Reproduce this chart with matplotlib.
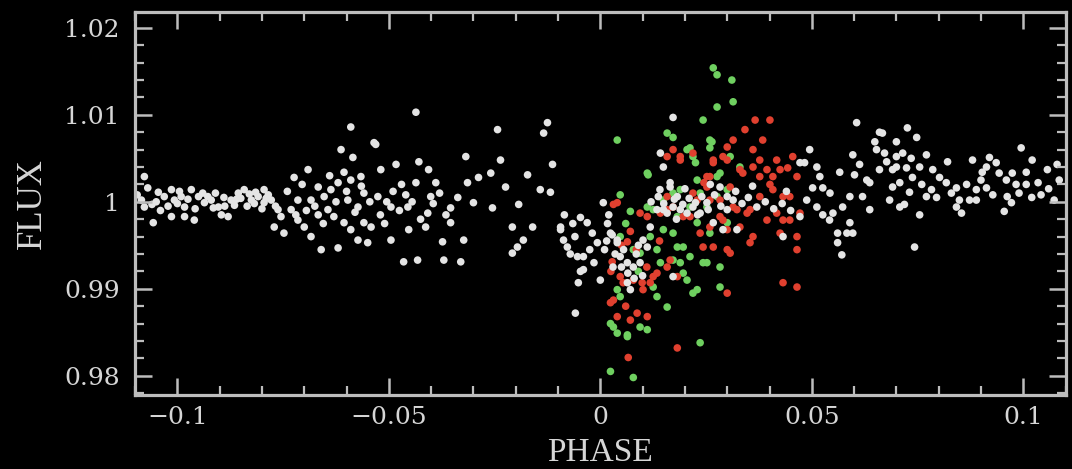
import matplotlib
matplotlib.use("Agg")
import matplotlib.pyplot as plt
from matplotlib.ticker import MultipleLocator

# phase, flux
white_points = [
    (-0.1078, 1.0029), (-0.1085, 1.0002), (-0.1078, 0.9994), (-0.1057, 0.9976), (-0.1045, 1.0011),
    (-0.1031, 1.0006), (-0.1014, 1.0014), (-0.1007, 1.0002), (-0.0991, 1.0006), (-0.0983, 0.9994),
    (-0.1014, 0.9983), (-0.0983, 0.9983), (-0.0960, 0.9979), (-0.0967, 1.0014), (-0.0950, 1.0006),
    (-0.0936, 0.9999), (-0.0920, 1.0002), (-0.0903, 0.9994), (-0.0896, 0.9985), (-0.0880, 0.9983),
    (-0.0873, 1.0002), (-0.0856, 1.0010), (-0.0842, 1.0014), (-0.0825, 1.0002), (-0.0809, 1.0006),
    (-0.0795, 1.0014), (-0.0795, 0.9999), (-0.0778, 1.0002), (-0.0762, 0.9991), (-0.0755, 0.9983),
    (-0.0771, 0.9971), (-0.0748, 0.9964), (-0.0731, 0.9991), (-0.0715, 1.0002), (-0.0715, 0.9979),
    (-0.0700, 0.9971), (-0.0684, 0.9960), (-0.0660, 0.9945), (-0.0620, 0.9947), (-0.0691, 1.0037),
    (-0.0667, 1.0017), (-0.0653, 1.0006), (-0.0637, 1.0014), (-0.0620, 1.0022), (-0.0606, 1.0034),
    (-0.0590, 1.0025), (-0.0724, 1.0028), (-0.0644, 0.9991), (-0.0630, 0.9983), (-0.0606, 0.9976),
    (-0.0667, 0.9985), (-0.0684, 1.0002), (-0.0597, 1.0002), (-0.0573, 0.9994), (-0.0559, 1.0010),
    (-0.0566, 1.0029), (-0.0559, 0.9976), (-0.0590, 0.9968), (-0.0573, 0.9956), (-0.0550, 0.9953),
    (-0.0590, 1.0086), (-0.0613, 1.0060), (-0.0585, 1.0051), (-0.0535, 1.0068),
    (-0.1095, 1.0008), (-0.1060, 0.9997), (-0.1040, 0.9990), (-0.1000, 0.9998), (-0.0975, 1.0003),
    (-0.0940, 1.0010), (-0.0915, 0.9993), (-0.0890, 1.0005), (-0.0865, 0.9996), (-0.0850, 1.0004),
    (-0.0835, 0.9995), (-0.0815, 1.0011), (-0.0800, 0.9992), (-0.0785, 1.0008), (-0.0740, 1.0012),
    (-0.0705, 1.0020), (-0.0675, 0.9995), (-0.0655, 0.9975), (-0.0640, 1.0030), (-0.0625, 1.0000),
    (-0.0600, 1.0012), (-0.0580, 0.9988), (-0.0565, 1.0018), (-0.0545, 1.0000),
    (-0.1070, 1.0016), (-0.1050, 1.0000), (-0.1022, 0.9995), (-0.0995, 1.0012), (-0.0958, 0.9992),
    (-0.0928, 1.0006), (-0.0910, 1.0010), (-0.0888, 0.9995), (-0.0860, 1.0003), (-0.0830, 1.0009),
    (-0.0818, 0.9998), (-0.0790, 1.0004), (-0.0768, 0.9995), (-0.0720, 0.9985), (-0.0695, 0.9990),
    (-0.0436, 1.0103), (-0.0531, 1.0066), (-0.0243, 1.0083), (-0.0125, 1.0091), (-0.0134, 1.0079),
    (-0.0113, 1.0043), (-0.0318, 1.0052), (-0.0236, 1.0048), (-0.0483, 1.0043), (-0.0429, 1.0046),
    (-0.0406, 1.0037), (-0.0389, 1.0022), (-0.0288, 1.0028), (-0.0259, 1.0033), (-0.0172, 1.0031),
    (-0.0224, 1.0017), (-0.0142, 1.0014), (-0.0314, 1.0022), (-0.0436, 1.0022), (-0.0519, 1.0037),
    (-0.0300, 0.9999), (-0.0255, 0.9993), (-0.0193, 0.9997), (-0.0337, 1.0005), (-0.0354, 0.9993),
    (-0.0401, 1.0006), (-0.0408, 0.9987), (-0.0455, 0.9994), (-0.0495, 0.9994), (-0.0453, 0.9968),
    (-0.0413, 0.9971), (-0.0354, 0.9976), (-0.0495, 0.9956), (-0.0373, 0.9954), (-0.0323, 0.9956),
    (-0.0465, 0.9931), (-0.0432, 0.9933), (-0.0370, 0.9933), (-0.0330, 0.9931), (-0.0208, 0.9971),
    (-0.0196, 0.9948), (-0.0208, 0.9941), (-0.0160, 0.9971), (-0.0182, 0.9956), (-0.0542, 0.9971),
    (-0.0526, 1.0006), (-0.0520, 0.9985), (-0.0505, 1.0000), (-0.0490, 1.0012), (-0.0475, 0.9990),
    (-0.0460, 1.0008), (-0.0510, 0.9975), (-0.0470, 1.0020), (-0.0445, 1.0000), (-0.0425, 0.9980),
    (-0.0395, 0.9998), (-0.0380, 1.0010), (-0.0365, 0.9985),
    (-0.0118, 1.0011), (-0.0094, 0.9968), (-0.0087, 0.9956), (-0.0078, 0.9948), (-0.0071, 0.9940),
    (-0.0054, 0.9937), (-0.0040, 0.9937), (-0.0047, 0.9982), (-0.0031, 0.9976), (-0.0019, 0.9964),
    (-0.0007, 0.9953), (0.0007, 0.9999), (0.0017, 0.9975), (0.0028, 0.9962), (0.0040, 0.9953),
    (0.0047, 0.9937), (0.0064, 0.9930), (0.0078, 0.9925), (0.0094, 0.9930), (0.0064, 0.9907),
    (0.0071, 0.9899), (-0.0047, 0.9920), (-0.0052, 0.9907), (0.0000, 0.9910), (-0.0059, 0.9872),
    (0.0111, 0.9948), (0.0101, 0.9956), (0.0118, 0.9971), (0.0172, 0.9914), (0.0172, 1.0097),
    (0.0142, 1.0056), (0.0149, 1.0040), (0.0137, 1.0006), (0.0134, 0.9991), (0.0158, 0.9987),
    (0.0172, 0.9994), (0.0189, 0.9991), (0.0205, 0.9987), (0.0219, 0.9994), (0.0236, 0.9987),
    (0.0182, 1.0006), (0.0165, 1.0022), (0.0252, 0.9999), (0.0267, 0.9976), (0.0290, 0.9968),
    (0.0300, 0.9991), (0.0314, 1.0002), (0.0323, 0.9968), (0.0283, 1.0017), (0.0055, 0.9945),
    (0.0085, 0.9940), (0.0030, 0.9925), (-0.0015, 0.9930), (0.0020, 0.9985), (-0.0060, 0.9960),
    (0.0100, 0.9915), (-0.0094, 0.9971), (-0.0040, 0.9922), (0.0024, 0.9964), (0.0040, 0.9956),
    (0.0141, 1.0014), (0.0165, 1.0017), (0.0149, 0.9991),
    (0.0150, 0.9998), (0.0175, 1.0003), (0.0195, 0.9997), (0.0210, 1.0004), (0.0225, 0.9999),
    (0.0240, 1.0006), (0.0255, 0.9991), (0.0270, 1.0008), (0.0285, 0.9995), (0.0300, 1.0006),
    (0.0320, 1.0012), (0.0335, 0.9998), (0.0350, 1.0005), (0.0370, 0.9994), (0.0390, 1.0000),
    (0.0410, 0.9992), (0.0430, 0.9998), (0.0450, 0.9990), (0.0200, 1.0015), (0.0230, 0.9985),
    (0.0260, 1.0020), (0.0180, 0.9980), (0.0120, 1.0000), (0.0360, 1.0018), (0.0440, 1.0012),
    (0.0010, 0.9945), (0.0035, 0.9940), (0.0065, 0.9918), (0.0050, 0.9925), (0.0080, 0.9912),
    (0.0015, 0.9955), (-0.0025, 0.9945), (0.0090, 0.9950), (-0.0085, 0.9985), (-0.0065, 0.9975),
    (0.0606, 1.0091), (0.0660, 1.0080), (0.0495, 1.0060), (0.0483, 1.0045), (0.0519, 1.0029),
    (0.0566, 1.0034), (0.0526, 1.0016), (0.0502, 1.0016), (0.0488, 1.0002), (0.0512, 0.9994),
    (0.0597, 1.0054), (0.0613, 1.0043), (0.0601, 1.0031), (0.0649, 1.0069), (0.0653, 1.0060),
    (0.0677, 1.0046), (0.0691, 1.0037), (0.0660, 1.0037), (0.0637, 1.0022), (0.0620, 1.0006),
    (0.0590, 1.0006), (0.0637, 0.9991), (0.0550, 0.9987), (0.0542, 0.9979), (0.0573, 0.9994),
    (0.0590, 0.9976), (0.0597, 0.9964), (0.0561, 0.9964), (0.0583, 0.9964), (0.0561, 0.9953),
    (0.0571, 0.9939), (0.0684, 1.0002), (0.0432, 0.9960), (0.0472, 0.9983), (0.0700, 1.0052),
    (0.0630, 1.0025), (0.0543, 1.0010), (0.0526, 0.9985), (0.0472, 1.0045), (0.0512, 1.0040),
    (0.0726, 1.0085), (0.0748, 1.0074), (0.0700, 1.0069), (0.0667, 1.0079), (0.0672, 1.0056),
    (0.0715, 1.0056), (0.0724, 1.0039), (0.0771, 1.0054), (0.0755, 1.0040), (0.0786, 1.0037),
    (0.0802, 1.0028), (0.0821, 1.0046), (0.0738, 1.0028), (0.0708, 1.0022), (0.0691, 1.0017),
    (0.0731, 1.0011), (0.0771, 1.0006), (0.0783, 1.0014), (0.0719, 0.9997), (0.0755, 0.9985),
    (0.0708, 0.9994), (0.0818, 1.0022), (0.0842, 1.0016), (0.0866, 1.0020), (0.0889, 1.0014),
    (0.0849, 1.0002), (0.0873, 1.0002), (0.0842, 0.9994), (0.0854, 0.9987), (0.0889, 1.0002),
    (0.0913, 1.0016), (0.0880, 1.0048), (0.0913, 1.0040), (0.0920, 1.0051), (0.0936, 1.0045),
    (0.0943, 1.0033), (0.0903, 1.0034), (0.0995, 1.0062), (0.1021, 1.0048), (0.1007, 1.0034),
    (0.0974, 1.0033), (0.0960, 1.0025), (0.0983, 1.0020), (0.1007, 1.0020), (0.1035, 1.0022),
    (0.0962, 1.0006), (0.0972, 0.9999), (0.0955, 0.9989), (0.1042, 1.0008), (0.1073, 1.0002),
    (0.1057, 1.0037), (0.1080, 1.0043), (0.1085, 1.0025), (0.0743, 0.9948),
    (0.0700, 1.0040), (0.0735, 1.0050), (0.0760, 1.0020), (0.0795, 1.0005), (0.0830, 1.0010),
    (0.0900, 1.0025), (0.0928, 1.0008), (0.0990, 1.0010), (0.1020, 1.0005), (0.1060, 1.0015),
]

red_points = [
    (0.0031, 0.9997), (0.0040, 0.9999), (0.0094, 0.9987), (0.0071, 0.9966), (0.0158, 1.0052),
    (0.0189, 1.0052), (0.0219, 1.0056), (0.0259, 1.0029), (0.0300, 1.0063), (0.0314, 1.0071),
    (0.0290, 1.0052), (0.0307, 1.0017), (0.0283, 0.9983), (0.0300, 0.9945), (0.0300, 0.9895),
    (0.0243, 0.9948), (0.0158, 0.9925), (0.0165, 0.9933), (0.0182, 0.9914), (0.0229, 1.0002),
    (0.0196, 0.9983), (0.0158, 0.9991), (0.0118, 0.9907), (0.0101, 0.9899), (0.0078, 0.9910),
    (0.0024, 0.9884), (0.0031, 0.9887), (0.0040, 0.9868), (0.0071, 0.9864), (0.0087, 0.9872),
    (0.0182, 0.9832), (0.0066, 0.9821), (0.0099, 0.9907), (0.0134, 0.9918), (0.0054, 0.9907),
    (0.0158, 1.0006), (0.0259, 1.0002), (0.0323, 0.9991), (0.0366, 1.0094), (0.0401, 1.0094),
    (0.0342, 1.0083), (0.0384, 1.0071), (0.0361, 1.0060), (0.0300, 1.0048), (0.0377, 1.0048),
    (0.0417, 1.0048), (0.0425, 1.0037), (0.0394, 1.0037), (0.0361, 1.0040), (0.0330, 1.0037),
    (0.0267, 1.0048), (0.0252, 1.0029), (0.0189, 1.0048), (0.0172, 1.0060), (0.0408, 1.0014),
    (0.0432, 1.0006), (0.0377, 1.0006), (0.0354, 0.9991), (0.0314, 0.9994), (0.0290, 0.9979),
    (0.0330, 0.9971), (0.0361, 0.9960), (0.0354, 0.9953), (0.0307, 0.9941), (0.0300, 0.9968),
    (0.0417, 0.9987), (0.0432, 0.9979), (0.0394, 0.9979), (0.0212, 0.9983), (0.0172, 0.9994),
    (0.0142, 0.9987), (0.0111, 0.9983), (0.0432, 0.9907), (0.0252, 1.0017), (0.0219, 1.0010),
    (0.0236, 0.9964), (0.0267, 0.9948), (0.0455, 1.0052), (0.0465, 1.0029), (0.0448, 1.0006),
    (0.0472, 0.9987), (0.0465, 0.9960), (0.0465, 0.9945), (0.0425, 0.9964), (0.0465, 0.9902),
    (0.0401, 1.0020), (0.0448, 0.9979), (0.0377, 1.0029), (0.0337, 1.0033), (0.0245, 1.0022),
    (0.0267, 1.0045), (0.0283, 1.0002), (0.0347, 0.9987), (0.0259, 0.9971), (0.0408, 1.0029),
    (0.0443, 1.0039), (0.0050, 0.9950), (0.0085, 0.9945), (0.0025, 0.9920), (0.0110, 0.9925),
    (0.0060, 0.9880), (0.0140, 0.9955), (0.0064, 0.9954), (0.0028, 0.9931), (0.0047, 0.9914),
    (0.0111, 0.9868), (0.0125, 0.9914),
]

green_points = [
    (0.0267, 1.0154), (0.0276, 1.0146), (0.0311, 1.0140), (0.0314, 1.0115), (0.0276, 1.0109),
    (0.0243, 1.0094), (0.0040, 1.0071), (0.0158, 1.0079), (0.0172, 1.0074), (0.0259, 1.0071),
    (0.0205, 1.0060), (0.0219, 1.0052), (0.0113, 1.0031), (0.0047, 1.0008), (0.0071, 0.9989),
    (0.0111, 0.9994), (0.0047, 0.9960), (0.0078, 0.9945), (0.0118, 0.9960), (0.0134, 0.9945),
    (0.0182, 0.9948), (0.0212, 0.9937), (0.0243, 0.9930), (0.0205, 0.9910), (0.0229, 0.9899),
    (0.0283, 0.9902), (0.0158, 0.9879), (0.0134, 0.9891), (0.0047, 0.9891), (0.0031, 0.9856),
    (0.0094, 0.9856), (0.0111, 0.9853), (0.0040, 0.9849), (0.0064, 0.9845), (0.0236, 0.9838),
    (0.0024, 0.9805), (0.0078, 0.9798), (0.0276, 1.0029), (0.0300, 1.0014), (0.0300, 0.9976),
    (0.0283, 0.9925), (0.0259, 0.9964), (0.0172, 1.0010), (0.0149, 0.9968), (0.0189, 0.9930),
    (0.0264, 1.0069), (0.0259, 1.0062), (0.0212, 1.0062), (0.0225, 1.0045), (0.0111, 1.0033),
    (0.0307, 1.0052), (0.0330, 1.0040), (0.0283, 1.0033), (0.0229, 1.0025), (0.0189, 1.0014),
    (0.0236, 1.0010), (0.0276, 1.0006), (0.0149, 1.0002), (0.0125, 0.9991), (0.0212, 0.9994),
    (0.0182, 0.9983), (0.0252, 0.9994), (0.0172, 0.9964), (0.0229, 0.9976), (0.0196, 0.9948),
    (0.0252, 0.9930), (0.0196, 0.9918), (0.0172, 0.9933), (0.0219, 0.9895), (0.0094, 0.9941),
    (0.0142, 0.9930), (0.0125, 0.9902), (0.0040, 0.9899), (0.0024, 0.9860), (0.0064, 0.9847),
    (0.0060, 0.9975), (0.0090, 0.9920),
]

x_ticks = [-0.1, -0.05, 0, 0.05, 0.1]
x_labels = ["\u22120.1", "\u22120.05", "0", "0.05", "0.1"]
y_ticks = [0.98, 0.99, 1.0, 1.01, 1.02]
y_labels = ["0.98", "0.99", "1", "1.01", "1.02"]

frame_col = "#bdbdbd"
text_col = "#d6d6d6"

fig = plt.figure(figsize=(10.72, 4.69), dpi=100, facecolor="black")
ax = fig.add_axes([0.126, 0.158, 0.868, 0.816], facecolor="black")

for pts, col in [(green_points, "#6fd060"), (red_points, "#e0402f"), (white_points, "#e4e4e4")]:
    ax.scatter([p[0] for p in pts], [p[1] for p in pts], s=30, c=col, marker="o",
               edgecolors="none")

ax.set_xlim(-0.11, 0.11)
ax.set_ylim(0.9778, 1.0218)

ax.set_xticks(x_ticks, x_labels)
ax.set_yticks(y_ticks, y_labels)
ax.xaxis.set_minor_locator(MultipleLocator(0.01))
ax.yaxis.set_minor_locator(MultipleLocator(0.002))

ax.tick_params(which="both", direction="in", top=True, right=True, color=frame_col)
ax.tick_params(which="major", length=12, width=1.8)
ax.tick_params(which="minor", length=6.5, width=1.6)
ax.tick_params(axis="x", which="major", pad=8, labelsize=18, labelcolor=text_col)
ax.tick_params(axis="y", which="major", pad=11, labelsize=18, labelcolor=text_col)
for lab in ax.get_xticklabels() + ax.get_yticklabels():
    lab.set_family("DejaVu Serif")

for sp in ax.spines.values():
    sp.set_color(frame_col)
    sp.set_linewidth(2.3)

ax.set_xlabel("PHASE", fontsize=24, family="Liberation Serif", color=text_col)
ax.set_ylabel("FLUX", fontsize=25, family="Liberation Serif", color=text_col)
ax.xaxis.set_label_coords(0.5, -0.112)
ax.yaxis.set_label_coords(-0.093, 0.5)

fig.savefig("out.png", dpi=100, facecolor="black")
